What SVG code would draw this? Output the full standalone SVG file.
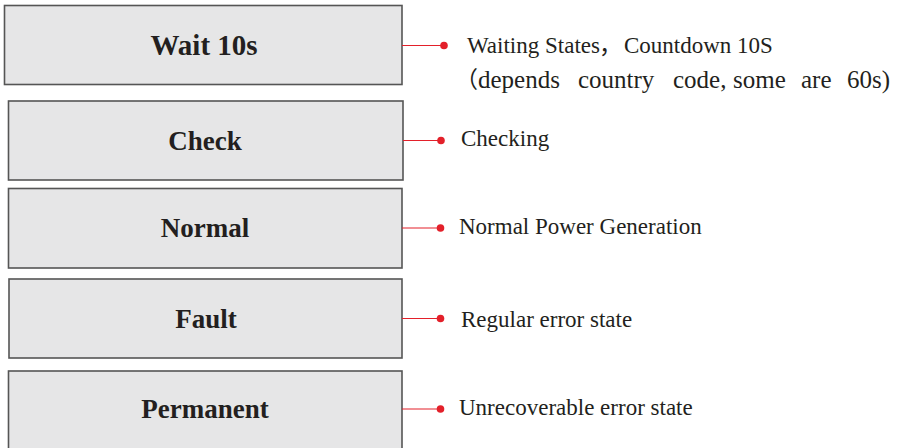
<svg xmlns="http://www.w3.org/2000/svg" width="899" height="448" viewBox="0 0 899 448">
  <style>
    .box{fill:#e6e6e7;stroke:#555;stroke-width:1.6}
    .lbl{font-family:"Liberation Serif","Times New Roman",serif;font-weight:bold;font-size:27px;fill:#231f20;text-anchor:middle}
    .desc{font-family:"Liberation Serif","Times New Roman",serif;font-size:23px;fill:#231f20}
    .big{font-size:25px}
    .cjk{font-family:"Noto Sans CJK SC",sans-serif;font-size:23px;fill:#231f20}
    .conn{stroke:#e3202a;stroke-width:1.2;fill:none}
    .dot{fill:#e3202a}
  </style>
  <rect width="899" height="448" fill="#ffffff"/>
  <g id="node-wait">
    <rect class="box" x="4.5" y="5.5" width="397.5" height="79"/>
    <text class="lbl" x="204" y="55" style="font-size:29px">Wait 10s</text>
  </g>
  <g id="node-check">
    <rect class="box" x="8.5" y="101" width="394.5" height="79"/>
    <text class="lbl" x="205" y="150">Check</text>
  </g>
  <g id="node-normal">
    <rect class="box" x="8.5" y="188.5" width="393.5" height="79.5"/>
    <text class="lbl" x="205" y="237">Normal</text>
  </g>
  <g id="node-fault">
    <rect class="box" x="9" y="279" width="393" height="79"/>
    <text class="lbl" x="206" y="328">Fault</text>
  </g>
  <g id="node-permanent">
    <rect class="box" x="8.5" y="371" width="393.5" height="90"/>
    <text class="lbl" x="205" y="418">Permanent</text>
  </g>
  <g id="connectors">
    <line class="conn" x1="402" y1="45.5" x2="444" y2="45.5"/>
    <circle class="dot" cx="444" cy="45.5" r="3.8"/>
    <line class="conn" x1="403" y1="140.5" x2="441" y2="140.5"/>
    <circle class="dot" cx="441" cy="140.5" r="3.8"/>
    <line class="conn" x1="402" y1="228" x2="440.5" y2="228"/>
    <circle class="dot" cx="440.5" cy="228" r="3.8"/>
    <line class="conn" x1="402" y1="318.5" x2="440.5" y2="318.5"/>
    <circle class="dot" cx="440.5" cy="318.5" r="3.8"/>
    <line class="conn" x1="402" y1="409" x2="440.5" y2="409"/>
    <circle class="dot" cx="440.5" cy="409" r="3.8"/>
  </g>
  <g id="descriptions">
    <text class="desc" x="467" y="53">Waiting States</text>
    <text class="cjk" x="599" y="53">，</text>
    <text class="desc" x="624" y="53">Countdown 10S</text>
    <text class="cjk big" x="455" y="88">（</text>
    <text class="desc big" y="88"><tspan x="478">depends</tspan><tspan x="578">country</tspan><tspan x="673">code,</tspan><tspan x="733">some</tspan><tspan x="801">are</tspan><tspan x="847">60s)</tspan></text>
    <text class="desc" x="461" y="146">Checking</text>
    <text class="desc" x="459" y="234">Normal Power Generation</text>
    <text class="desc" x="461" y="327">Regular error state</text>
    <text class="desc" x="459" y="415">Unrecoverable error state</text>
  </g>
</svg>
